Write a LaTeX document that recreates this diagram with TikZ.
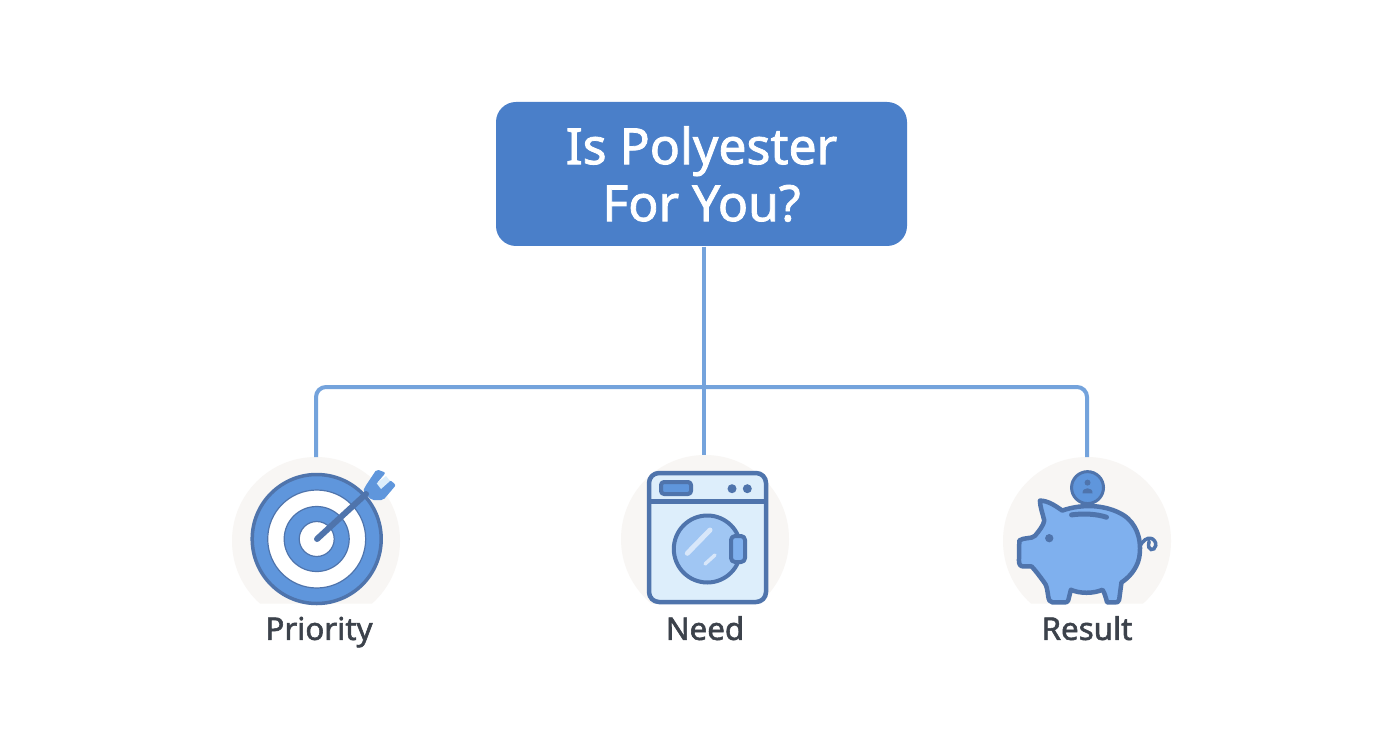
\documentclass[tikz,border=0pt]{standalone}
\usepackage{fontspec}
\setmainfont{Noto Sans}
\newfontfamily\titlefont[FakeBold=1.6]{Noto Sans}
\newfontfamily\tagfont[FakeBold=1.8]{Noto Sans}
\definecolor{rootblue}{HTML}{4A7FC9}
\definecolor{wireblue}{HTML}{74A3DC}
\definecolor{inkblue}{HTML}{4F74AC}
\definecolor{ringblue}{HTML}{5F96DC}
\definecolor{pigblue}{HTML}{7FB0EE}
\definecolor{paleblue}{HTML}{DDEEFB}
\definecolor{discgrey}{HTML}{F8F6F4}
\definecolor{labelgrey}{HTML}{3C424B}
\tikzset{
  root/.style={rectangle, rounded corners=20\unit, fill=rootblue, text=white, minimum width=411\unit, minimum height=144\unit, align=center, font=\fontsize{14.2}{16.2}\selectfont\titlefont},
  tag/.style={rectangle, rounded corners=14\unit, fill=white, text=labelgrey, minimum width=150\unit, minimum height=52\unit, text height=7pt, text depth=2.5pt, font=\fontsize{8.9}{11}\selectfont\tagfont},
  disc/.style={circle, fill=discgrey, minimum size=168\unit, inner sep=0pt},
  wire/.style={wireblue, line width=4\unit},
  ink/.style={inkblue, line width=4\unit, line join=round}
}
\newcommand{\unit}{*0.01cm}
\begin{document}
\begin{tikzpicture}[x=0.01cm,y=-0.01cm]
\useasboundingbox[fill=white] (0,0) rectangle (1392,752);

\node[disc] (prioritydisc) at (316,541) {};
\node[disc] (needdisc) at (705,539) {};
\node[disc] (resultdisc) at (1087,541) {};
\node[root] (root) at (701.5,174) {Is Polyester\\For You?};
\node[tag] (priority) at (319,632) {Priority};
\node[tag] (need) at (705,632) {Need};
\node[tag] (result) at (1087,632) {Result};

\coordinate (junction) at (704,387);
\coordinate (prioritytop) at (316,457);
\coordinate (needtop) at (704,455);
\coordinate (resulttop) at (1087,457);
\draw[wire] (root.south -| junction) -- (needtop);
\draw[wire, rounded corners=10\unit] (prioritytop) |- (junction) -| (resulttop);

% target
\draw[ink, line width=3.5\unit, fill=ringblue] (316.7,539) circle (64.5);
\draw[ink, line width=1.2\unit, fill=white] (316.7,539) circle (49);
\draw[ink, line width=1.2\unit, fill=ringblue] (316.7,539) circle (32.5);
\draw[ink, line width=1.2\unit, fill=white] (316.7,539) circle (17.5);
\fill[ringblue, rounded corners=2\unit] (364.7,487.3) -- (376.7,469.3) -- (385.7,472.7) -- (376.7,483.3) -- (390,480) -- (396,485) -- (383.3,500) -- (371.7,500) -- (363,491.7) -- cycle;
\fill[paleblue] (376.7,483.3) -- (386,476) -- (390,481) -- (381,489) -- cycle;
\draw[inkblue, line width=6\unit, line cap=round] (317,539) -- (366,494);

% washer
\draw[ink, line width=4.5\unit, fill=paleblue, rounded corners=10\unit] (649,473) rectangle (766,602);
\draw[ink, line width=4.5\unit] (649,501.7) -- (766,501.7);
\draw[ink, fill=ringblue, rounded corners=3\unit] (661,482) rectangle (691,494);
\fill[inkblue] (732,488.7) circle (4.5);
\fill[inkblue] (747.3,488.7) circle (4.5);
\draw[ink, fill=pigblue!65!paleblue] (707.3,549) circle (33.5);
\draw[white!70!pigblue, line width=5\unit, line cap=round] (687.3,553.3) -- (710,530);
\draw[white!70!pigblue, line width=3.5\unit, line cap=round] (705,564) -- (715,555);
\draw[ink, fill=pigblue, rounded corners=4\unit] (731,536) rectangle (745,562);

% piggy bank
\begin{scope}[shift={(990,450)}, x=0.00333cm, y=-0.00333cm]
\draw[ink, line width=3\unit, fill=ringblue] (293,113) circle (48);
\fill[inkblue] (293,98) circle (9) (278,130) .. controls (276,110) and (310,110) .. (308,130) -- cycle;
\draw[inkblue, line width=3.5\unit, line cap=round] (450,290) .. controls (470,250) and (500,265) .. (498,287) .. controls (495,305) and (470,305) .. (478,275);
\draw[ink, line width=4.5\unit, fill=pigblue] (88,272) .. controls (100,262) and (125,268) .. (135,258) .. controls (148,242) and (160,228) .. (163,212) .. controls (158,190) and (150,170) .. (150,152) .. controls (175,152) and (200,170) .. (217,182) .. controls (280,160) and (350,165) .. (400,195) .. controls (440,220) and (458,270) .. (448,325) .. controls (440,360) and (415,385) .. (395,398) -- (388,450) .. controls (388,458) and (380,458) .. (375,458) -- (352,458) .. controls (348,445) and (345,430) .. (338,420) .. controls (310,432) and (270,432) .. (243,420) -- (235,452) .. controls (233,458) and (228,458) .. (222,458) -- (188,458) .. controls (180,458) and (176,450) .. (175,440) .. controls (172,420) and (170,405) .. (163,398) .. controls (150,380) and (135,360) .. (125,350) -- (100,350) .. controls (90,350) and (87,342) .. (87,332) -- cycle;
\draw[inkblue, line width=5\unit, line cap=round] (245,195) .. controls (280,190) and (320,192) .. (350,202);
\fill[inkblue] (178,265) circle (12.5);
\end{scope}
\end{tikzpicture}
\end{document}
